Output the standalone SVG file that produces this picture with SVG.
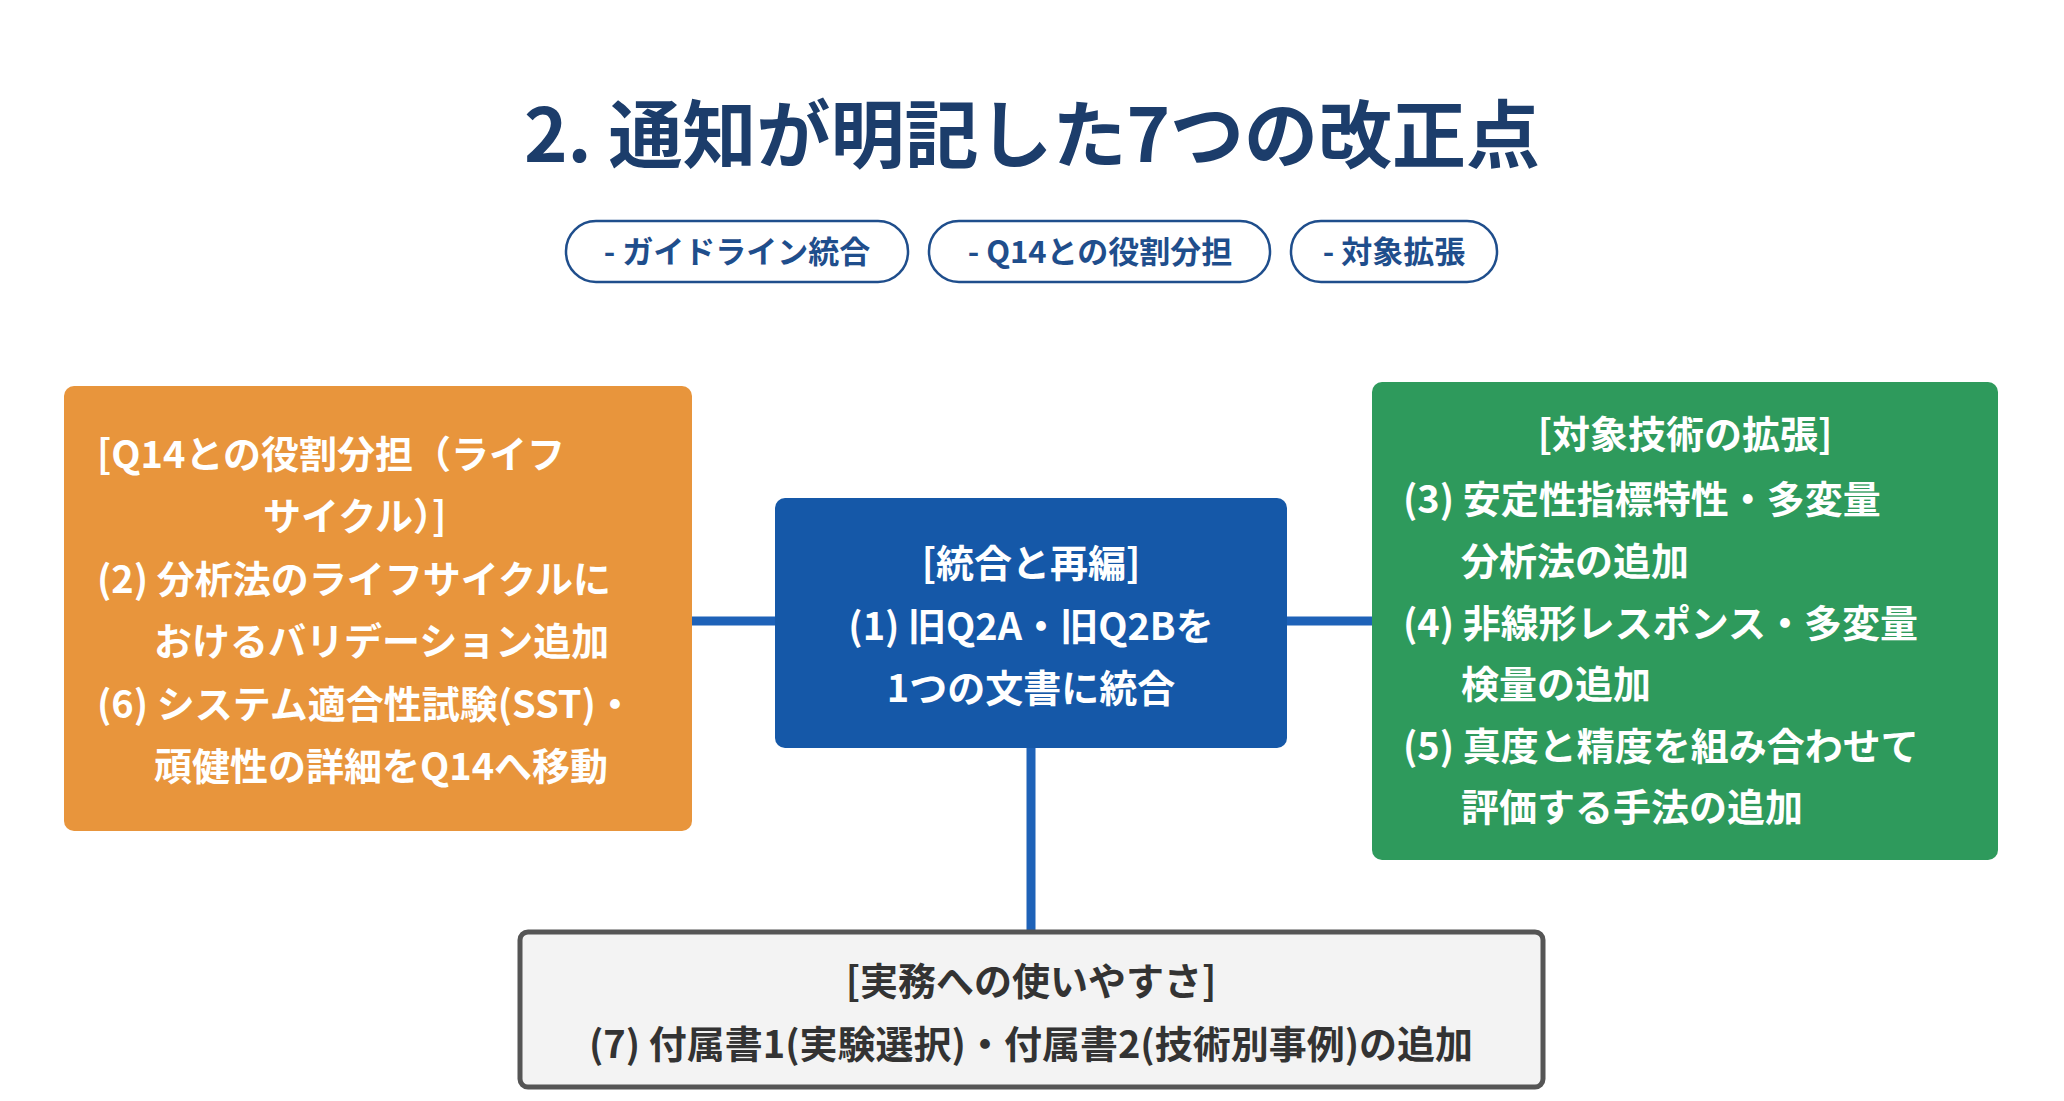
<svg xmlns="http://www.w3.org/2000/svg" width="2064" height="1101" viewBox="0 0 2064 1101">
<style>
text{font-family:"Noto Sans CJK JP","Noto Sans",sans-serif;font-weight:bold}
.t{fill:#fff;font-size:38px}
.pill{fill:#fff;stroke:#1f4e8c;stroke-width:2.5}
.pt{fill:#1f4e8c;font-size:31px;text-anchor:middle}
.c{stroke:#1e62b8;stroke-width:9;fill:none}
</style>
<rect width="2064" height="1101" fill="#fff"/>
<text x="1032" y="162" text-anchor="middle" font-size="74" fill="#1c3d6b">2. 通知が明記した7つの改正点</text>
<g id="pills">
<rect class="pill" x="566" y="221" width="342" height="61" rx="30"/><text class="pt" x="737" y="263">- ガイドライン統合</text>
<rect class="pill" x="929" y="221" width="341" height="61" rx="30"/><text class="pt" x="1100" y="263">- Q14との役割分担</text>
<rect class="pill" x="1291" y="221" width="206" height="61" rx="30"/><text class="pt" x="1394" y="263">- 対象拡張</text>
</g>
<g id="connectors">
<line class="c" x1="692" y1="621" x2="775" y2="621"/>
<line class="c" x1="1287" y1="621" x2="1372" y2="621"/>
<line class="c" x1="1031" y1="748" x2="1031" y2="932"/>
</g>
<g id="left">
<rect x="64" y="386" width="628" height="445" rx="10" fill="#e8953c"/>
<text class="t" x="97" y="468">[Q14との役割分担（ライフ</text>
<text class="t" x="263" y="530">サイクル）]</text>
<text class="t" x="97" y="593">(2) 分析法のライフサイクルに</text>
<text class="t" x="154" y="655">おけるバリデーション追加</text>
<text class="t" x="97" y="718">(6) システム適合性試験(SST)・</text>
<text class="t" x="154" y="780">頑健性の詳細をQ14へ移動</text>
</g>
<g id="center">
<rect x="775" y="498" width="512" height="250" rx="10" fill="#1558a8"/>
<text class="t" x="1031" y="577" text-anchor="middle">[統合と再編]</text>
<text class="t" x="1031" y="640" text-anchor="middle">(1) 旧Q2A・旧Q2Bを</text>
<text class="t" x="1031" y="702" text-anchor="middle">1つの文書に統合</text>
</g>
<g id="right">
<rect x="1372" y="382" width="626" height="478" rx="10" fill="#2e9a5c"/>
<text class="t" x="1685" y="448" text-anchor="middle">[対象技術の拡張]</text>
<text class="t" x="1403" y="513">(3) 安定性指標特性・多変量</text>
<text class="t" x="1461" y="575">分析法の追加</text>
<text class="t" x="1403" y="637">(4) 非線形レスポンス・多変量</text>
<text class="t" x="1461" y="698">検量の追加</text>
<text class="t" x="1403" y="760">(5) 真度と精度を組み合わせて</text>
<text class="t" x="1461" y="821">評価する手法の追加</text>
</g>
<g id="bottom">
<rect x="520" y="932" width="1023" height="155" rx="8" fill="#f3f3f3" stroke="#555" stroke-width="5"/>
<text class="t" x="1031" y="995" text-anchor="middle" fill="#333" style="fill:#333">[実務への使いやすさ]</text>
<text class="t" x="1031" y="1058" text-anchor="middle" style="fill:#333">(7) 付属書1(実験選択)・付属書2(技術別事例)の追加</text>
</g>
</svg>
